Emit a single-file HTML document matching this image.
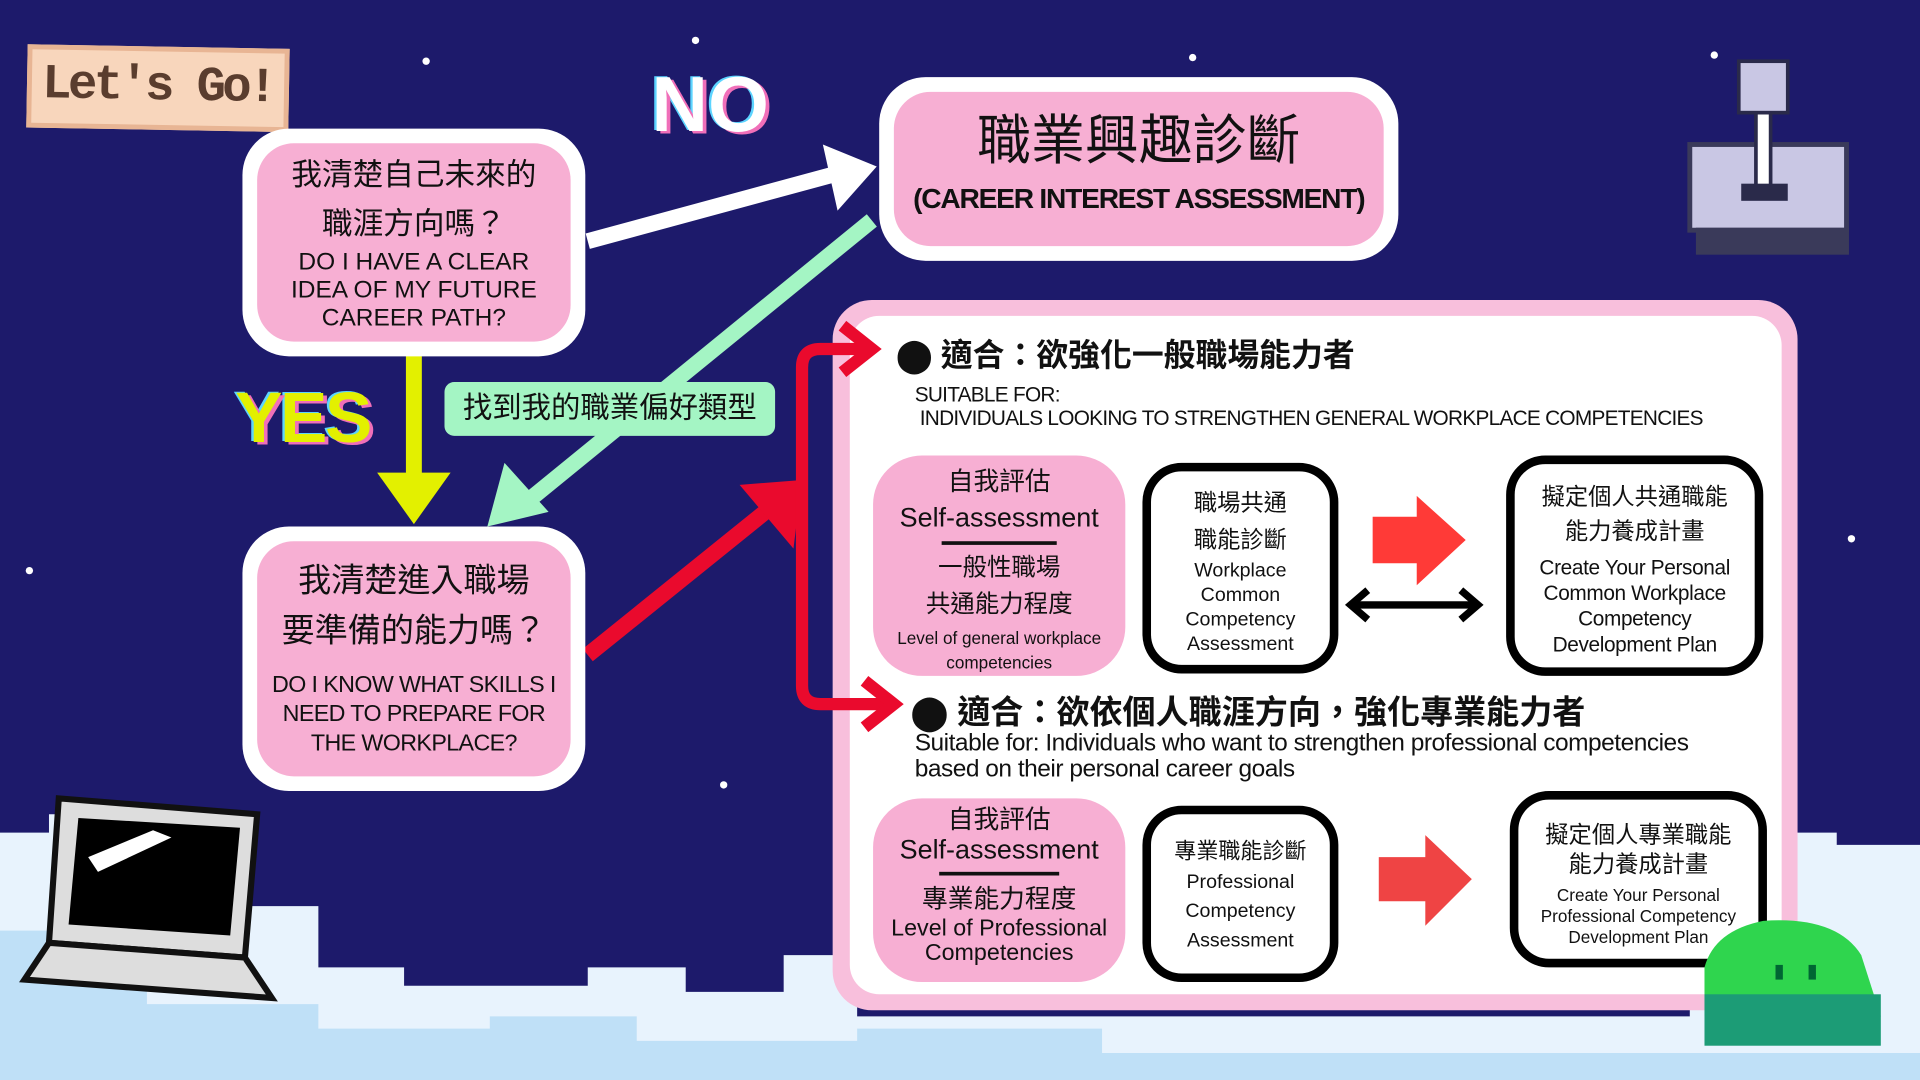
<!DOCTYPE html>
<html><head><meta charset="utf-8">
<style>
html,body{margin:0;padding:0;width:1920px;height:1080px;overflow:hidden;background:#1d1a6b;}
#w{position:absolute;left:0;top:0;width:1568px;height:882px;transform:scale(1.22449);transform-origin:0 0;background:#1d1a6b;font-family:"Liberation Sans","Noto Sans CJK TC",sans-serif;}
.a{position:absolute;}
.wb{position:absolute;background:#fff;border-radius:38px;}
.pb{position:absolute;background:#f7afd3;border-radius:30px;text-align:center;color:#111;}
.bk{position:absolute;border:7px solid #000;border-radius:32px;background:#fff;text-align:center;color:#111;box-sizing:border-box;}
.nw{white-space:nowrap;}
</style></head><body><div id="w">
<svg class="a" style="left:0;top:0" width="1568" height="882">
<path d="M0 680 L40 680 L40 665 L70 665 L70 690 L120 690 L120 720 L200 720 L200 740 L260 740 L260 790 L330 790 L330 805 L480 805 L480 790 L560 790 L560 810 L640 810 L640 780 L700 780 L700 830 L1380 830 L1380 700 L1440 700 L1440 680 L1500 680 L1500 690 L1568 690 L1568 882 L0 882Z" fill="#e8f3fd"/>
<path d="M0 760 L60 760 L60 790 L120 790 L120 820 L260 820 L260 840 L400 840 L400 830 L520 830 L520 850 L700 850 L700 840 L900 840 L900 860 L1568 860 L1568 882 L0 882Z" fill="#bfe0f7"/>
<g fill="#fff"><circle cx="348" cy="50" r="3"/><circle cx="568" cy="33" r="3"/><circle cx="974" cy="47" r="3"/><circle cx="1400" cy="45" r="3"/><circle cx="24" cy="466" r="3"/><circle cx="591" cy="641" r="3"/><circle cx="1512" cy="440" r="3"/></g>
<line x1="480" y1="197" x2="690" y2="140" stroke="#fff" stroke-width="13"/>
<polygon points="672,118 716,136 684,172" fill="#fff"/>
<line x1="712" y1="180" x2="430" y2="410" stroke="#a4f5c4" stroke-width="13"/>
<polygon points="398,430 412,378 448,418" fill="#a4f5c4"/>
<line x1="338" y1="290" x2="338" y2="395" stroke="#e3f000" stroke-width="13"/>
<polygon points="308,386 368,386 338,428" fill="#e3f000"/>
<line x1="480" y1="535" x2="635" y2="410" stroke="#ea0a2d" stroke-width="13"/>
<polygon points="604,396 655,392 648,448" fill="#ea0a2d"/>
<rect x="1380" y="118" width="128" height="70" fill="#c9c7e4" stroke="#3a3a5a" stroke-width="4"/>
<rect x="1385" y="186" width="125" height="22" fill="#3a3a5a"/>
<rect x="1434" y="90" width="12" height="68" fill="#fff" stroke="#2a2a4a" stroke-width="3"/>
<rect x="1420" y="50" width="40" height="42" fill="#c9c7e4" stroke="#2a2a4a" stroke-width="3"/>
<rect x="1422" y="150" width="38" height="14" fill="#2a2a4a"/>
<polygon points="48,652 210,665 200,782 40,770" fill="#ddd" stroke="#111" stroke-width="5"/>
<polygon points="64,668 196,676 188,764 56,755" fill="#000"/>
<polygon points="72,700 125,678 140,684 80,712" fill="#fff"/>
<polygon points="40,770 200,782 222,815 20,800" fill="#ddd" stroke="#111" stroke-width="5"/>
</svg>

<div class="a nw" style="left:22px;top:38px;width:206px;height:60px;background:#f8d6bc;border:4px solid #e8b594;transform:rotate(1deg);font:bold 40px 'Liberation Mono',monospace;color:#5a3d2e;text-align:center;line-height:60px;letter-spacing:-3px">Let's Go!</div>
<div class="a" style="left:532px;top:48px;font:bold 64px 'Liberation Sans',sans-serif;color:#fff;text-shadow:3px 2px 0 #f06fb9,-2px -1px 0 #5cd4ff;">NO</div>
<div class="a" style="left:192px;top:308px;font:bold 58px 'Liberation Sans',sans-serif;color:#e3f000;text-shadow:3px 2px 0 #f06fb9,-2px -1px 0 #5cd4ff;letter-spacing:-2px">YES</div>

<div class="wb" style="left:198px;top:105px;width:280px;height:186px"></div>
<div class="pb" style="left:210px;top:117px;width:256px;height:162px">
<div style="font-size:25px;line-height:40px;margin-top:6px">我清楚自己未來的<br>職涯方向嗎？</div>
<div style="font-size:20px;line-height:23px">DO I HAVE A CLEAR<br>IDEA OF MY FUTURE<br>CAREER PATH?</div></div>
<div class="wb" style="left:198px;top:430px;width:280px;height:216px"></div>
<div class="pb" style="left:210px;top:442px;width:256px;height:192px">
<div style="font-size:27px;line-height:41px;margin-top:12px">我清楚進入職場<br>要準備的能力嗎？</div>
<div class="nw" style="font-size:19px;line-height:24px;margin-top:12px;letter-spacing:-0.5px">DO I KNOW WHAT SKILLS I<br>NEED TO PREPARE FOR<br>THE WORKPLACE?</div></div>
<div class="wb" style="left:718px;top:63px;width:424px;height:150px"></div>
<div class="pb" style="left:730px;top:75px;width:400px;height:126px">
<div style="font-size:44px;line-height:50px;margin-top:16px">職業興趣診斷</div>
<div class="nw" style="font-size:23px;font-weight:bold;line-height:30px;margin-top:6px;letter-spacing:-1px">(CAREER INTEREST ASSESSMENT)</div></div>
<div class="a" style="left:363px;top:312px;width:270px;height:44px;background:#a4f5c4;border-radius:8px;font-size:24px;line-height:44px;text-align:center;color:#111">找到我的職業偏好類型</div>

<div class="a" style="left:680px;top:245px;width:788px;height:580px;background:#f8bfdc;border-radius:32px"></div>
<div class="a" style="left:694px;top:258px;width:761px;height:554px;background:#fff;border-radius:24px"></div>

<svg class="a" style="left:0;top:0" width="1568" height="882">
<path d="M712 285 L670 285 Q655 285 655 300 L655 560 Q655 575 670 575 L725 575" fill="none" stroke="#ea0a2d" stroke-width="10"/>
<polyline points="688,266 712,285 688,304" fill="none" stroke="#ea0a2d" stroke-width="10"/>
<polyline points="706,556 730,575 706,594" fill="none" stroke="#ea0a2d" stroke-width="10"/>
</svg>

<div class="a nw" style="left:732px;top:270px;font-size:26px;font-weight:bold;color:#111">⬤ 適合：欲強化一般職場能力者</div>
<div class="a nw" style="left:747px;top:313px;font-size:17px;line-height:19px;color:#111;letter-spacing:-0.6px">SUITABLE FOR:<br>&nbsp;INDIVIDUALS LOOKING TO STRENGTHEN GENERAL WORKPLACE COMPETENCIES</div>

<div class="pb" style="left:713px;top:372px;width:206px;height:180px;border-radius:40px">
<div style="font-size:21px;margin-top:8px;line-height:28px">自我評估</div>
<div style="font-size:22px;line-height:30px">Self-assessment</div>
<div style="width:94px;height:3px;background:#111;margin:4px auto 4px"></div>
<div style="font-size:20px;line-height:30px">一般性職場<br>共通能力程度</div>
<div class="nw" style="font-size:14px;line-height:20px;margin-top:2px">Level of general workplace<br>competencies</div></div>
<div class="bk" style="left:933px;top:378px;width:160px;height:172px">
<div style="font-size:19px;line-height:30px;margin-top:12px">職場共通<br>職能診斷</div>
<div style="font-size:16px;line-height:20px">Workplace<br>Common<br>Competency<br>Assessment</div></div>
<svg class="a" style="left:1095px;top:400px" width="120" height="115">
<polygon points="26,22 62,22 62,5 102,41 62,78 62,60 26,60" fill="#ff3a37"/>
<line x1="12" y1="94" x2="108" y2="94" stroke="#000" stroke-width="6"/>
<polyline points="22,82 8,94 22,106" fill="none" stroke="#000" stroke-width="6"/>
<polyline points="98,82 112,94 98,106" fill="none" stroke="#000" stroke-width="6"/></svg>
<div class="bk" style="left:1230px;top:372px;width:210px;height:180px">
<div style="font-size:19px;line-height:28px;margin-top:14px">擬定個人共通職能<br>能力養成計畫</div>
<div class="nw" style="font-size:17px;line-height:21px;margin-top:4px;letter-spacing:-0.3px">Create Your Personal<br>Common Workplace<br>Competency<br>Development Plan</div></div>

<div class="a nw" style="left:744px;top:560px;font-size:27px;font-weight:bold;color:#111">⬤ 適合：欲依個人職涯方向，強化專業能力者</div>
<div class="a nw" style="left:747px;top:597px;font-size:20px;line-height:21px;color:#111;letter-spacing:-0.4px">Suitable for: Individuals who want to strengthen professional competencies<br>based on their personal career goals</div>

<div class="pb" style="left:713px;top:652px;width:206px;height:150px;border-radius:40px">
<div style="font-size:21px;margin-top:6px;line-height:24px">自我評估</div>
<div style="font-size:22px;line-height:24px">Self-assessment</div>
<div style="width:98px;height:3px;background:#111;margin:6px auto 6px"></div>
<div style="font-size:21px;line-height:28px">專業能力程度</div>
<div class="nw" style="font-size:19px;line-height:20px">Level of Professional<br>Competencies</div></div>
<div class="bk" style="left:933px;top:658px;width:160px;height:144px">
<div style="font-size:18px;line-height:28px;margin-top:16px">專業職能診斷</div>
<div style="font-size:16px;line-height:24px">Professional<br>Competency<br>Assessment</div></div>
<svg class="a" style="left:1120px;top:680px" width="90" height="80">
<polygon points="6,20 44,20 44,2 82,38 44,76 44,56 6,56" fill="#ef4444"/></svg>
<div class="bk" style="left:1233px;top:646px;width:210px;height:144px">
<div style="font-size:19px;line-height:24px;margin-top:18px">擬定個人專業職能<br>能力養成計畫</div>
<div class="nw" style="font-size:14px;line-height:17px;margin-top:4px">Create Your Personal<br>Professional Competency<br>Development Plan</div></div>

<svg class="a" style="left:0;top:0" width="1568" height="882">
<path d="M1392 830 L1392 790 Q1400 760 1440 752 Q1500 748 1520 780 L1536 830 Z" fill="#2fd54e"/>
<rect x="1392" y="812" width="144" height="42" fill="#1c9c76"/>
<rect x="1450" y="788" width="6" height="12" fill="#063"/><rect x="1477" y="788" width="6" height="12" fill="#063"/>
</svg>
</div></body></html>
